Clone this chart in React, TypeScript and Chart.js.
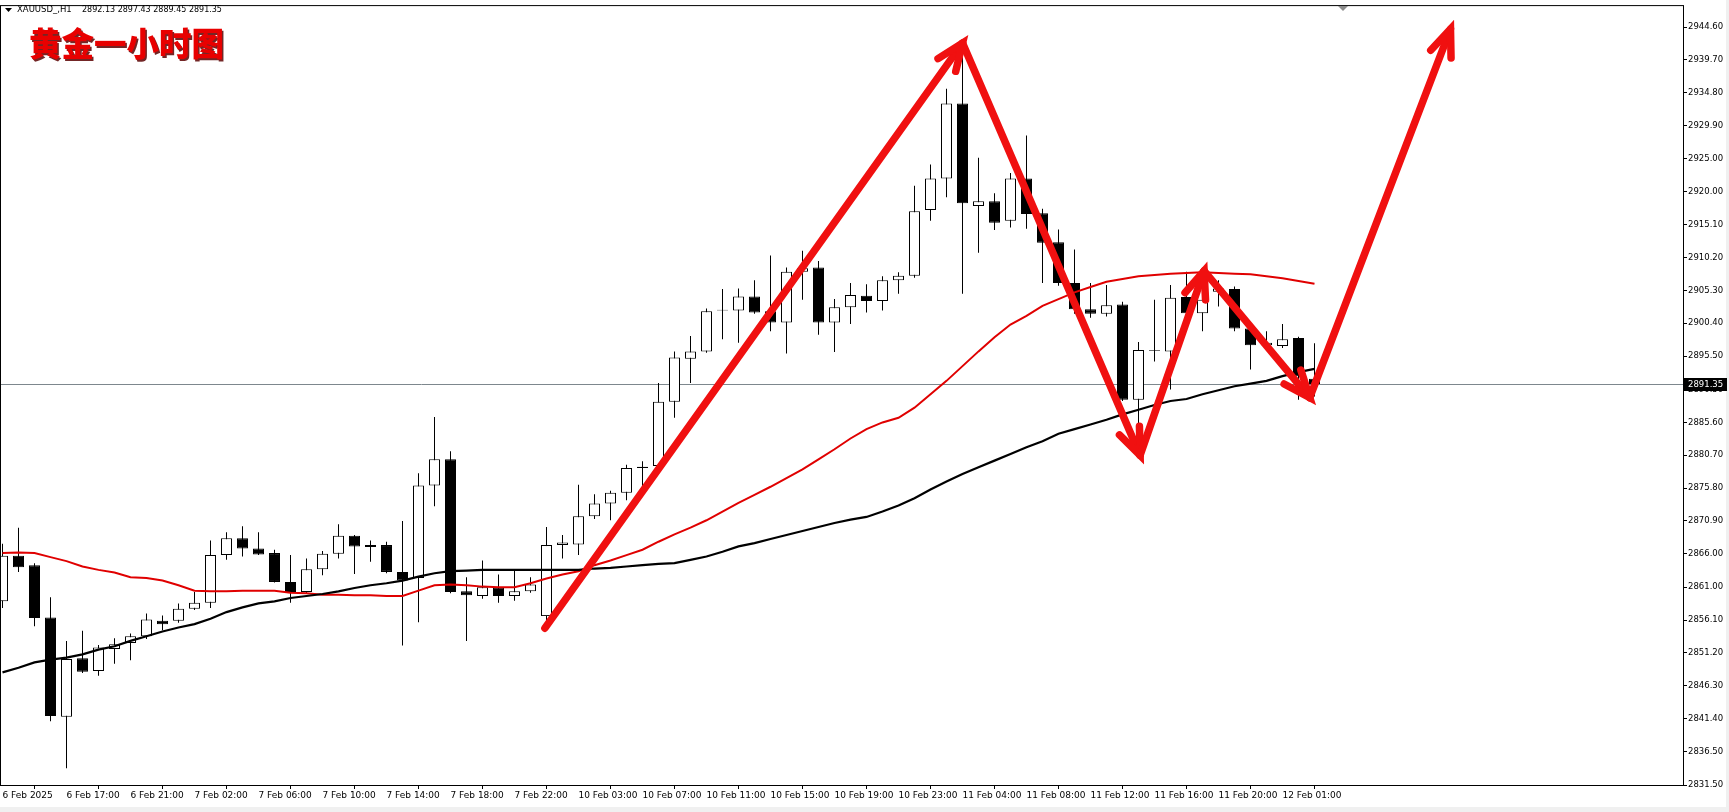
import React, { useEffect, useRef } from "react";
import { Chart, registerables } from "chart.js";

Chart.register(...registerables);

// ---------- data ----------
const opens = [
  2858.9, 2865.7, 2864.3, 2856.5, 2841.7, 2850.4, 2848.5, 2851.8, 2852.7, 2853.7,
  2856.0, 2856.0, 2857.8, 2858.7, 2865.8, 2868.3, 2866.8, 2866.1, 2861.8, 2860.3,
  2863.7, 2866.0, 2868.7, 2867.3, 2867.3, 2863.3, 2862.4, 2876.2, 2880.1, 2860.4,
  2859.7, 2861.0, 2859.7, 2860.4, 2856.7, 2867.3, 2867.4, 2871.6, 2873.5, 2875.1,
  2878.8, 2879.1, 2888.7, 2895.1, 2896.2, 2902.4, 2902.3, 2904.4, 2902.2, 2900.5,
  2908.1, 2908.7, 2900.5, 2902.8, 2904.5, 2903.7, 2906.8, 2907.5, 2917.3, 2922.0,
  2933.2, 2917.9, 2918.6, 2915.7, 2922.0, 2916.8, 2912.5, 2906.4, 2902.5, 2901.8,
  2903.2, 2889.0, 2896.4, 2896.2, 2904.3, 2901.9, 2905.1, 2905.5, 2899.6, 2897.1,
  2897.0, 2898.2, 2892.13,
];
const highs = [
  2867.5, 2869.9, 2864.6, 2859.5, 2853.0, 2854.5, 2852.4, 2853.4, 2854.1, 2857.1,
  2856.8, 2858.6, 2860.3, 2868.0, 2869.2, 2870.1, 2869.2, 2866.6, 2865.8, 2865.3,
  2866.4, 2870.4, 2868.8, 2868.0, 2867.8, 2870.9, 2878.0, 2886.4, 2881.3, 2862.5,
  2865.0, 2862.9, 2863.6, 2862.5, 2870.0, 2868.8, 2876.3, 2874.9, 2875.4, 2879.3,
  2879.8, 2891.5, 2896.2, 2898.5, 2902.6, 2905.5, 2905.6, 2906.8, 2910.5, 2908.7,
  2911.2, 2909.7, 2904.0, 2906.4, 2906.2, 2907.4, 2908.0, 2920.9, 2924.1, 2935.4,
  2941.5, 2925.1, 2919.8, 2922.8, 2928.4, 2917.5, 2914.4, 2911.4, 2906.4, 2906.1,
  2903.6, 2897.6, 2903.9, 2906.1, 2908.1, 2907.0, 2906.8, 2905.9, 2899.8, 2899.2,
  2900.3, 2898.4, 2897.43,
];
const lows = [
  2857.9, 2863.3, 2855.2, 2841.0, 2834.0, 2848.2, 2847.8, 2849.6, 2850.1, 2853.3,
  2854.6, 2855.7, 2857.6, 2857.9, 2865.1, 2865.6, 2865.8, 2861.7, 2858.7, 2860.0,
  2862.8, 2865.3, 2863.0, 2864.8, 2863.1, 2852.3, 2855.8, 2873.1, 2860.1, 2853.0,
  2859.3, 2858.7, 2859.0, 2860.2, 2856.0, 2865.3, 2865.8, 2871.2, 2871.0, 2874.0,
  2876.0, 2878.5, 2886.3, 2891.5, 2896.0, 2898.0, 2897.5, 2901.8, 2899.2, 2895.9,
  2903.9, 2898.7, 2896.1, 2900.3, 2902.0, 2902.3, 2904.8, 2907.2, 2915.7, 2919.2,
  2904.8, 2910.9, 2914.3, 2914.7, 2914.5, 2906.4, 2906.0, 2901.8, 2901.2, 2901.4,
  2888.8, 2884.6, 2894.7, 2890.5, 2901.8, 2899.2, 2902.9, 2899.2, 2893.5, 2896.8,
  2896.7, 2889.0, 2889.45,
];
const closes = [
  2865.7, 2864.0, 2856.4, 2841.8, 2850.3, 2848.4, 2852.0, 2852.5, 2853.7, 2856.2,
  2855.5, 2857.8, 2858.7, 2865.8, 2868.3, 2866.8, 2865.9, 2861.8, 2860.3, 2863.7,
  2866.0, 2868.7, 2867.1, 2867.0, 2863.3, 2862.0, 2876.2, 2880.1, 2860.3, 2859.8,
  2861.0, 2859.7, 2860.4, 2861.4, 2867.3, 2867.7, 2871.6, 2873.5, 2875.1, 2878.8,
  2879.0, 2888.7, 2895.3, 2896.2, 2902.2, 2902.3, 2904.4, 2902.0, 2900.5, 2908.1,
  2908.6, 2900.5, 2902.8, 2904.6, 2903.7, 2906.8, 2907.5, 2917.1, 2922.0, 2933.2,
  2918.3, 2918.6, 2915.4, 2922.0, 2916.7, 2912.4, 2906.4, 2902.5, 2901.8, 2903.1,
  2889.0, 2896.4, 2896.3, 2904.2, 2901.9, 2903.9, 2905.6, 2899.6, 2897.1, 2897.5,
  2898.0, 2892.5, 2891.35,
];
const maRed = [
  2866.1, 2866.2, 2866.1, 2865.5, 2864.9, 2864.1, 2863.6, 2863.2, 2862.5, 2862.4,
  2862.0, 2861.3, 2860.5, 2860.4, 2860.4, 2860.5, 2860.5, 2860.5, 2860.2, 2860.1,
  2859.9, 2859.9, 2859.8, 2859.8, 2859.7, 2859.7, 2860.5, 2861.3, 2861.4, 2861.3,
  2861.1, 2861.0, 2861.0, 2861.6, 2862.3, 2862.9, 2863.4, 2864.3, 2865.0, 2865.8,
  2866.6, 2867.8, 2868.9, 2869.9, 2871.0, 2872.3, 2873.6, 2874.8, 2876.0, 2877.3,
  2878.6, 2880.1, 2881.6, 2883.2, 2884.6, 2885.6, 2886.3, 2887.8, 2889.8, 2891.8,
  2894.0, 2896.2, 2898.3, 2900.2, 2901.5, 2903.0, 2904.0, 2905.0, 2905.8, 2906.6,
  2907.0, 2907.4, 2907.6, 2907.8, 2907.9, 2908.0, 2907.9, 2907.8, 2907.7, 2907.4,
  2907.1, 2906.7, 2906.3,
];
const maBlack = [
  2848.3, 2849.0, 2849.8, 2850.2, 2850.5, 2851.0, 2851.7, 2852.2, 2853.0, 2853.7,
  2854.4, 2855.0, 2855.5, 2856.3, 2857.3, 2858.0, 2858.6, 2858.9, 2859.4, 2859.7,
  2860.0, 2860.4, 2860.9, 2861.3, 2861.6, 2862.0, 2862.6, 2863.1, 2863.4, 2863.5,
  2863.6, 2863.6, 2863.6, 2863.6, 2863.6, 2863.6, 2863.6, 2863.8, 2863.9, 2864.1,
  2864.3, 2864.5, 2864.6, 2865.1, 2865.6, 2866.3, 2867.1, 2867.6, 2868.2, 2868.8,
  2869.4, 2870.0, 2870.6, 2871.1, 2871.5, 2872.3, 2873.2, 2874.3, 2875.6, 2876.8,
  2877.9, 2878.9, 2879.9, 2880.9, 2881.9, 2882.8, 2883.9, 2884.6, 2885.3, 2886.0,
  2886.8, 2887.5, 2888.2, 2888.8, 2889.1, 2889.8, 2890.4, 2891.0, 2891.4, 2891.8,
  2892.5, 2893.1, 2893.6,
];
const timeLabels = [
  "6 Feb 2025", "6 Feb 17:00", "6 Feb 21:00", "7 Feb 02:00", "7 Feb 06:00",
  "7 Feb 10:00", "7 Feb 14:00", "7 Feb 18:00", "7 Feb 22:00", "10 Feb 03:00",
  "10 Feb 07:00", "10 Feb 11:00", "10 Feb 15:00", "10 Feb 19:00", "10 Feb 23:00",
  "11 Feb 04:00", "11 Feb 08:00", "11 Feb 12:00", "11 Feb 16:00", "11 Feb 20:00",
  "12 Feb 01:00",
];
const labelStep = 4;
const yTicks = [
  2831.5, 2836.5, 2841.4, 2846.3, 2851.2, 2856.1, 2861.0, 2866.0, 2870.9, 2875.8,
  2880.7, 2885.6, 2890.5, 2895.5, 2900.4, 2905.3, 2910.2, 2915.1, 2920.0, 2925.0,
  2929.9, 2934.8, 2939.7, 2944.6,
];
// arrow vertices: [bar index, price]
const arrowBars = [33.9, 60.0, 71.1, 75.1, 81.7, 90.5];
const arrowPrices = [2854.9, 2942.2, 2880.7, 2908.2, 2889.3, 2944.3];
const symbolText = "XAUUSD_,H1";
const titleText = "黄金一小时图";
const shiftBar = 83.8;

const X_MIN = -0.09375;
const X_MAX = X_MIN + 1682 / 16;
const Y_MIN = 2831.5;
const Y_MAX = 2947.72;
const FONT = "'DejaVu Sans', sans-serif";

export default function App() {
  const ref = useRef<HTMLCanvasElement | null>(null);

  useEffect(() => {
    document.body.style.margin = "0";
    document.body.style.overflow = "hidden";
    const canvas = ref.current;
    if (!canvas) return;
    const n = closes.length;
    const lastClose = closes[n - 1];

    const overlay = {
      id: "mt4overlay",
      beforeDraw(chart: any) {
        const ctx = chart.ctx;
        ctx.save();
        ctx.fillStyle = "#ffffff";
        ctx.fillRect(0, 0, chart.width, chart.height);
        ctx.fillStyle = "#f0f0f0";
        ctx.fillRect(0, chart.height - 5, chart.width, 5);
        ctx.fillRect(chart.width - 3, 0, 3, chart.height);
        ctx.restore();
      },
      beforeDatasetsDraw(chart: any) {
        const ctx = chart.ctx;
        const a = chart.chartArea;
        const y = Math.round(chart.scales.y.getPixelForValue(lastClose)) + 0.5;
        ctx.save();
        ctx.strokeStyle = "#7d878d";
        ctx.lineWidth = 1;
        ctx.beginPath();
        ctx.moveTo(a.left, y);
        ctx.lineTo(a.right, y);
        ctx.stroke();
        ctx.restore();
      },
      afterDatasetsDraw(chart: any) {
        const ctx = chart.ctx;
        const a = chart.chartArea;
        const xs = chart.scales.x;
        const ys = chart.scales.y;
        ctx.save();
        ctx.beginPath();
        ctx.rect(a.left, a.top, a.right - a.left, a.bottom - a.top);
        ctx.clip();
        ctx.strokeStyle = "#f01010";
        ctx.lineWidth = 7.5;
        ctx.lineCap = "round";
        ctx.lineJoin = "miter";
        for (let k = 0; k < arrowBars.length - 1; k++) {
          const x1 = xs.getPixelForValue(arrowBars[k]);
          const y1 = ys.getPixelForValue(arrowPrices[k]);
          const x2 = xs.getPixelForValue(arrowBars[k + 1]);
          const y2 = ys.getPixelForValue(arrowPrices[k + 1]);
          ctx.beginPath();
          ctx.moveTo(x1, y1);
          ctx.lineTo(x2, y2);
          ctx.stroke();
          const ang = Math.atan2(y2 - y1, x2 - x1);
          const len = 29;
          const spread = (22 * Math.PI) / 180;
          ctx.beginPath();
          ctx.moveTo(x2 - len * Math.cos(ang - spread), y2 - len * Math.sin(ang - spread));
          ctx.lineTo(x2, y2);
          ctx.lineTo(x2 - len * Math.cos(ang + spread), y2 - len * Math.sin(ang + spread));
          ctx.stroke();
        }
        ctx.restore();
      },
      afterDraw(chart: any) {
        const ctx = chart.ctx;
        const a = chart.chartArea;
        const ys = chart.scales.y;
        const xs = chart.scales.x;
        ctx.save();
        // frame
        ctx.strokeStyle = "#000";
        ctx.lineWidth = 1;
        ctx.strokeRect(a.left - 0.5, a.top - 0.5, a.right - a.left + 1, a.bottom - a.top + 1);
        // shift marker
        const sx = Math.round(xs.getPixelForValue(shiftBar));
        ctx.fillStyle = "#8c8c8c";
        ctx.beginPath();
        ctx.moveTo(sx - 5, a.top);
        ctx.lineTo(sx + 5, a.top);
        ctx.lineTo(sx, a.top + 5);
        ctx.closePath();
        ctx.fill();
        // header
        ctx.fillStyle = "#000";
        ctx.beginPath();
        ctx.moveTo(5, 8);
        ctx.lineTo(12, 8);
        ctx.lineTo(8.5, 12);
        ctx.closePath();
        ctx.fill();
        ctx.textBaseline = "middle";
        ctx.textAlign = "left";
        const ohlc = [opens[n - 1], highs[n - 1], lows[n - 1], closes[n - 1]]
          .map((v) => v.toFixed(2))
          .join(" ");
        ctx.font = `8.5px ${FONT}`;
        ctx.fillText(symbolText, 17, 10);
        ctx.font = `8px ${FONT}`;
        ctx.fillText(ohlc, 82, 10);
        // title
        ctx.font = `900 32.5px 'Noto Sans CJK SC', sans-serif`;
        ctx.textBaseline = "middle";
        ctx.shadowColor = "rgba(90,0,0,0.85)";
        ctx.shadowOffsetX = 1.5;
        ctx.shadowOffsetY = 1.5;
        ctx.shadowBlur = 0;
        ctx.fillStyle = "#e80000";
        ctx.fillText(titleText, 29, 44);
        ctx.shadowColor = "transparent";
        // price box
        const py = Math.round(ys.getPixelForValue(lastClose));
        ctx.fillStyle = "#000";
        ctx.fillRect(a.right, py - 6, 44, 13);
        ctx.fillStyle = "#fff";
        ctx.font = `8.5px ${FONT}`;
        ctx.textBaseline = "middle";
        ctx.fillText(lastClose.toFixed(2), a.right + 5, py + 0.5);
        ctx.restore();
      },
    };

    const bodyData = closes.map((c, i) => ({ x: i, y: [opens[i], c] }));
    const wickData = closes.map((_, i) => ({ x: i, y: [lows[i], highs[i]] }));
    const bodyBg = closes.map((c, i) => (c >= opens[i] ? "#ffffff" : "#000000"));

    const chart = new Chart(canvas, {
      type: "bar",
      data: {
        datasets: [
          {
            type: "line",
            data: maBlack.map((v, i) => ({ x: i, y: v })),
            borderColor: "#000000",
            borderWidth: 2.2,
            pointRadius: 0,
            tension: 0,
            order: 0,
          } as any,
          {
            type: "line",
            data: maRed.map((v, i) => ({ x: i, y: v })),
            borderColor: "#e00000",
            borderWidth: 2,
            pointRadius: 0,
            tension: 0,
            order: 0,
          } as any,
          {
            type: "bar",
            data: bodyData as any,
            backgroundColor: bodyBg,
            borderColor: "#000000",
            borderWidth: 1,
            borderSkipped: false,
            barThickness: 11,
            grouped: false,
            inflateAmount: 0,
            order: 1,
          } as any,
          {
            type: "bar",
            data: wickData as any,
            backgroundColor: "#000000",
            borderWidth: 0,
            barThickness: 1,
            grouped: false,
            inflateAmount: 0,
            order: 2,
          } as any,
        ],
      },
      options: {
        responsive: false,
        animation: false,
        devicePixelRatio: 1,
        layout: { padding: { left: 1, top: 1, right: 0, bottom: 0 } },
        plugins: { legend: { display: false }, tooltip: { enabled: false } },
        events: [],
        scales: {
          x: {
            type: "linear",
            min: X_MIN,
            max: X_MAX,
            offset: false,
            afterBuildTicks: (s: any) => {
              s.ticks = timeLabels.map((_, k) => ({ value: k * labelStep }));
            },
            afterFit: (s: any) => {
              s.height = 27;
              s.paddingLeft = 0;
              s.paddingRight = 0;
            },
            ticks: {
              callback: (_v: any, idx: number) => timeLabels[idx],
              autoSkip: false,
              maxRotation: 0,
              minRotation: 0,
              align: "start",
              padding: 1,
              color: "#000",
              font: { family: FONT, size: 9 },
            },
            grid: { display: true, drawOnChartArea: false, drawTicks: true, tickLength: 4, color: "#000" },
            border: { display: true, color: "#000" },
          },
          y: {
            position: "right",
            min: Y_MIN,
            max: Y_MAX,
            afterBuildTicks: (s: any) => {
              s.ticks = yTicks.map((v) => ({ value: v }));
            },
            afterFit: (s: any) => {
              s.width = 46;
            },
            ticks: {
              callback: (v: any) => Number(v).toFixed(2),
              autoSkip: false,
              padding: 1,
              color: "#000",
              font: { family: FONT, size: 8.5 },
            },
            grid: { display: true, drawOnChartArea: false, drawTicks: true, tickLength: 4, color: "#000" },
            border: { display: true, color: "#000" },
          },
        },
      } as any,
      plugins: [overlay],
    });
    return () => chart.destroy();
  }, []);

  return (
    <div style={{ width: 1729, height: 812, overflow: "hidden" }}>
      <canvas ref={ref} width={1729} height={812} style={{ display: "block" }} />
    </div>
  );
}
